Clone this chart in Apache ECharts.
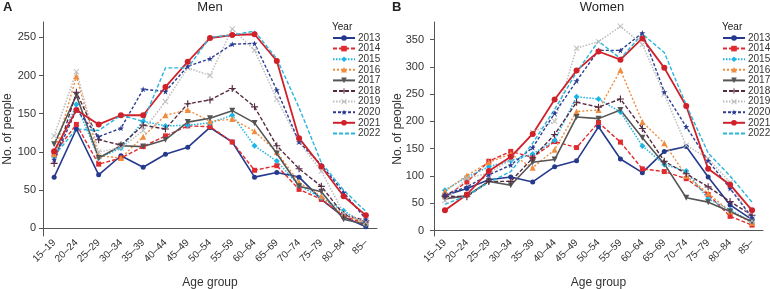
<!DOCTYPE html>
<html>
<head>
<meta charset="utf-8">
<script src="https://cdn.jsdelivr.net/npm/echarts@6.0.0/dist/echarts.min.js"></script>
<style>
  html, body { margin: 0; padding: 0; background: #fff; }
  #chart { width: 770px; height: 289px; }
</style>
</head>
<body>
<div id="chart"></div>
<script>
// categories and legend entries
const ageGroups = ['15–19', '20–24', '25–29', '30–34', '35–39', '40–44', '45–49', '50–54',
  '55–59', '60–64', '65–69', '70–74', '75–79', '80–84', '85–'];
const years = ['2013', '2014', '2015', '2016', '2017', '2018', '2019', '2020', '2021', '2022'];

// y tick labels
const menTicks = [0, 50, 100, 150, 200, 250];
const womenTicks = [0, 50, 100, 150, 200, 250, 300, 350];

// Men, number of people by age group
const men2013 = [67, 130, 70, 95, 80, 97, 106, 132, 113, 67, 73, 67, 38, 15, 2];
const men2014 = [98, 136, 84, 92, 107, 121, 134, 133, 113, 76, 82, 51, 38, 16, 6];
const men2015 = [94, 162, 92, 105, 140, 134, 135, 138, 148, 108, 88, 56, 40, 23, 5];
const men2016 = [97, 199, 95, 92, 120, 148, 155, 140, 143, 127, 100, 60, 42, 17, 8];
const men2017 = [110, 174, 92, 108, 107, 116, 139, 144, 154, 138, 98, 55, 48, 12, 5];
const men2018 = [85, 178, 116, 109, 135, 130, 163, 168, 183, 159, 108, 78, 55, 18, 10];
const men2019 = [121, 205, 100, 105, 128, 166, 210, 200, 261, 233, 169, 113, 75, 20, 8];
const men2020 = [90, 155, 120, 131, 182, 179, 212, 222, 241, 242, 181, 113, 83, 47, 12];
const men2021 = [101, 155, 136, 148, 148, 185, 218, 249, 253, 254, 219, 118, 81, 42, 17];
const men2022 = [95, 130, 128, 148, 140, 210, 210, 250, 253, 258, 222, 158, 86, 50, 22];

// Women, number of people by age group
const women2013 = [64, 77, 93, 98, 89, 117, 128, 190, 131, 106, 145, 154, 98, 47, 20];
const women2014 = [62, 89, 127, 145, 134, 163, 152, 198, 162, 113, 108, 95, 66, 26, 10];
const women2015 = [74, 98, 117, 128, 140, 165, 245, 241, 217, 155, 121, 109, 58, 38, 15];
const women2016 = [72, 101, 125, 140, 115, 148, 218, 221, 294, 199, 160, 100, 68, 35, 14];
const women2017 = [58, 64, 90, 83, 125, 130, 208, 205, 221, 170, 122, 60, 52, 35, 16];
const women2018 = [63, 62, 90, 90, 133, 176, 235, 226, 241, 187, 127, 104, 80, 53, 28];
const women2019 = [55, 96, 105, 130, 180, 200, 334, 346, 374, 341, 250, 156, 132, 88, 18];
const women2020 = [66, 80, 102, 120, 152, 215, 274, 330, 330, 362, 254, 190, 128, 77, 24];
const women2021 = [37, 66, 109, 135, 177, 240, 293, 328, 313, 352, 298, 228, 113, 84, 37];
const women2022 = [48, 64, 88, 108, 160, 222, 290, 347, 315, 360, 326, 230, 142, 100, 52];

const menData = [men2013, men2014, men2015, men2016, men2017, men2018, men2019, men2020, men2021, men2022];
const womenData = [women2013, women2014, women2015, women2016, women2017, women2018, women2019, women2020, women2021, women2022];

// marker shapes
const plusPath = 'path://M4.2,0H5.8V4.2H10V5.8H5.8V10H4.2V5.8H0V4.2H4.2Z';
const crossPath = 'path://M1.1,0L5,3.9L8.9,0L10,1.1L6.1,5L10,8.9L8.9,10L5,6.1L1.1,10L0,8.9L3.9,5L0,1.1Z';
const starPath = 'path://M5,0L6.2,3.6L10,3.6L7,5.9L8.1,9.5L5,7.3L1.9,9.5L3,5.9L0,3.6L3.8,3.6Z';

// per-year look
const styles = [
  { color: '#253a8c', type: 'solid', width: 1.6, symbol: 'circle', size: 5 },
  { color: '#e02b2f', type: [4, 2], width: 1.4, symbol: 'rect', size: 5 },
  { color: '#1db5e6', type: [1.5, 1.5], width: 1.5, symbol: 'diamond', size: 6 },
  { color: '#f08c3c', type: [2, 2], width: 1.4, symbol: 'triangle', size: 6 },
  { color: '#555555', type: 'solid', width: 1.6, symbol: 'triangle', size: 6, rotate: 180 },
  { color: '#562b40', type: [4, 2], width: 1.4, symbol: plusPath, size: 7 },
  { color: '#bdbdbd', type: [1.5, 1.5], width: 1.5, symbol: crossPath, size: 6 },
  { color: '#2b3c93', type: [3, 2], width: 1.4, symbol: starPath, size: 6 },
  { color: '#d0212a', type: 'solid', width: 1.8, symbol: 'circle', size: 6 },
  { color: '#2cb5da', type: [4, 2], width: 1.4, symbol: 'none', size: 0 }
];

const font = "'Liberation Sans', Arial, sans-serif";
const textColor = '#333';
const axisColor = '#555';

function makeSeries(dataList, gridIdx) {
  return years.map((y, i) => {
    const s = styles[i];
    return {
      name: y,
      type: 'line',
      xAxisIndex: gridIdx,
      yAxisIndex: gridIdx,
      data: dataList[i],
      symbol: s.symbol,
      symbolSize: s.size,
      symbolRotate: s.rotate || 0,
      showAllSymbol: true,
      lineStyle: { color: s.color, type: s.type, width: s.width },
      itemStyle: { color: s.color },
      emphasis: { disabled: true },
      animation: false
    };
  });
}

function makeXAxis(gridIdx) {
  return {
    type: 'category',
    gridIndex: gridIdx,
    data: ageGroups,
    boundaryGap: true,
    name: 'Age group',
    nameLocation: 'middle',
    nameGap: 41,
    nameMoveOverlap: false,
    nameTextStyle: { fontFamily: font, fontSize: 12, color: textColor },
    axisLine: { lineStyle: { color: axisColor, width: 1 } },
    axisTick: { alignWithLabel: true, length: 4, lineStyle: { color: axisColor } },
    axisLabel: { rotate: 45, fontFamily: font, fontSize: 10, color: textColor, margin: 5, interval: 0 }
  };
}

function makeYAxis(gridIdx, max, ticks, margin, gap) {
  return {
    type: 'value',
    gridIndex: gridIdx,
    min: -10,
    max: max,
    name: 'No. of people',
    nameLocation: 'middle',
    nameGap: gap,
    nameMoveOverlap: false,
    nameTextStyle: { fontFamily: font, fontSize: 12, color: textColor },
    axisLine: { show: true, lineStyle: { color: axisColor, width: 1 } },
    axisTick: { show: true, length: 4, lineStyle: { color: axisColor }, customValues: ticks },
    axisLabel: { fontFamily: font, fontSize: 11, color: textColor, margin: margin, customValues: ticks },
    splitLine: { show: false }
  };
}

function makeLegend(left) {
  return {
    orient: 'vertical',
    left: left,
    top: 33,
    itemWidth: 22,
    itemHeight: 7,
    itemGap: 0.6,
    // 2022 has no marker, only its dashed line
    data: years.map(y => (y === '2022' ? { name: y, itemStyle: { opacity: 0 } } : y)),
    selectedMode: false,
    textStyle: { fontFamily: font, fontSize: 10, color: textColor, padding: [0, 0, 0, -2] },
    padding: 0
  };
}

function label(text, x, y, size, weight, align) {
  return {
    type: 'text', x: x, y: y,
    style: { text: text, fontFamily: font, fontSize: size, fontWeight: weight,
      fill: '#222', align: align, verticalAlign: 'middle' }
  };
}

const chart = echarts.init(document.getElementById('chart'));
chart.setOption({
  backgroundColor: '#fff',
  animation: false,
  grid: [
    { left: 43, top: 22, width: 334, height: 214, outerBoundsMode: 'none' },
    { left: 434, top: 22, width: 329, height: 214, outerBoundsMode: 'none' }
  ],
  xAxis: [makeXAxis(0), makeXAxis(1)],
  yAxis: [makeYAxis(0, 270, menTicks, 7, 29), makeYAxis(1, 382, womenTicks, 10, 30)],
  legend: [makeLegend(332), makeLegend(722)],
  graphic: [
    label('A', 3, 7, 13, 'bold', 'left'),
    label('Men', 210, 7, 13, 'normal', 'center'),
    label('B', 392, 7, 13, 'bold', 'left'),
    label('Women', 602, 7, 13, 'normal', 'center'),
    label('Year', 332, 27, 10, 'normal', 'left'),
    label('Year', 722, 27, 10, 'normal', 'left')
  ],
  series: makeSeries(menData, 0).concat(makeSeries(womenData, 1))
});
</script>
</body>
</html>
